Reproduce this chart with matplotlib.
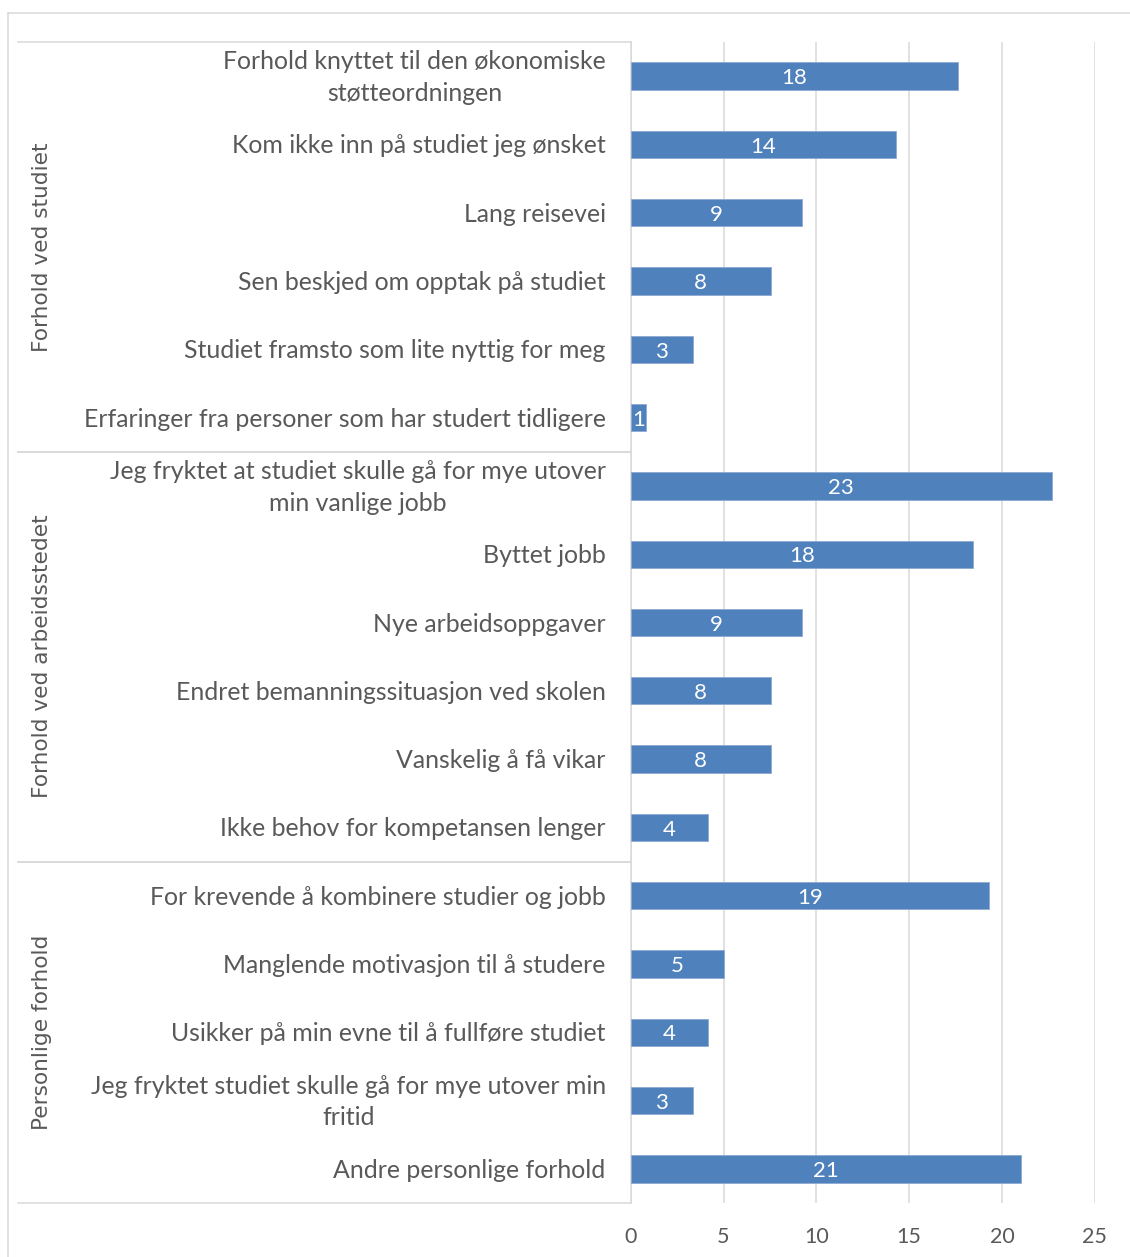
import matplotlib
matplotlib.use("Agg")
import matplotlib.pyplot as plt
from matplotlib.lines import Line2D
from matplotlib.transforms import offset_copy

# ---- data ----
groups = ["Forhold ved studiet", "Forhold ved arbeidsstedet", "Personlige forhold"]
group_sizes = [6, 6, 5]
categories = [
    "Forhold knyttet til den økonomiske\nstøtteordningen",
    "Kom ikke inn på studiet jeg ønsket",
    "Lang reisevei",
    "Sen beskjed om opptak på studiet",
    "Studiet framsto som lite nyttig for meg",
    "Erfaringer fra personer som har studert tidligere",
    "Jeg fryktet at studiet skulle gå for mye utover\nmin vanlige jobb",
    "Byttet jobb",
    "Nye arbeidsoppgaver",
    "Endret bemanningssituasjon ved skolen",
    "Vanskelig å få vikar",
    "Ikke behov for kompetansen lenger",
    "For krevende å kombinere studier og jobb",
    "Manglende motivasjon til å studere",
    "Usikker på min evne til å fullføre studiet",
    "Jeg fryktet studiet skulle gå for mye utover min\nfritid",
    "Andre personlige forhold",
]
values = [17.64, 14.28, 9.23, 7.56, 3.36, 0.81,
          22.68, 18.46, 9.23, 7.56, 7.56, 4.18,
          19.32, 5.01, 4.18, 3.36, 21.01]
xticks = [0, 5, 10, 15, 20, 25]

# ---- style ----
W, H = 1130, 1257
DPI = 100
bar_color = "#4F81BD"
grid_color = "#D9D9D9"
text_color = "#595959"
label_font = ["Lato", "DejaVu Sans"]

fig = plt.figure(figsize=(W / DPI, H / DPI), dpi=DPI)
fig.patch.set_facecolor("white")

ax_left, ax_right = 630.7, 1094.7
ax_top, ax_bot = 42, 1203
ax = fig.add_axes([ax_left / W, 1 - ax_bot / H, (ax_right - ax_left) / W, (ax_bot - ax_top) / H])

n = len(categories)
ypos = list(range(n))
ax.barh(ypos, values, height=0.4, color=bar_color, edgecolor="#8EAAD3", linewidth=0.6, zorder=3)

down2 = offset_copy(ax.transData, fig=fig, x=0, y=-2.2, units="dots")
down1 = offset_copy(ax.transData, fig=fig, x=0, y=-1.5, units="dots")

for y, v in zip(ypos, values):
    ax.text(v / 2, y, f"{round(v):d}", ha="center", va="center", color="white",
            fontsize=16, family=label_font, zorder=4, transform=down2)

ax.set_xlim(0, 25)
ax.set_ylim(n - 0.5, -0.5)
ax.set_xticks(xticks)
ax.set_xticklabels([str(t) for t in xticks], fontsize=15.5, color=text_color, family=label_font)
ax.tick_params(axis="x", length=0, pad=17)
ax.set_yticks([])
for s in ["top", "right", "bottom"]:
    ax.spines[s].set_visible(False)
ax.spines["left"].set_color(grid_color)
ax.spines["left"].set_linewidth(1.1)
ax.xaxis.grid(True, color=grid_color, linewidth=1.1, zorder=0)
ax.set_axisbelow(True)

# category labels
label_x = -25 / (ax_right - ax_left) * 25
for y, c in zip(ypos, categories):
    ax.text(label_x, y, c, ha="right", va="center", multialignment="center",
            fontsize=17.9, color=text_color, family=label_font, linespacing=1.45,
            transform=down1)

# group separators and group labels
sep_x0 = 18 / W
sep_x1 = ax_left / W
start = 0
for g, size in zip(groups, group_sizes):
    y_top = -0.5 + start
    y_bot = -0.5 + start + size
    for yb in (y_top, y_bot):
        yf = 1 - (ax_top + (yb + 0.5) * (ax_bot - ax_top) / n) / H
        fig.add_artist(Line2D([sep_x0, sep_x1], [yf, yf], color=grid_color, linewidth=1.1))
    yc = (y_top + y_bot) / 2
    yfc = 1 - (ax_top + (yc + 0.5) * (ax_bot - ax_top) / n) / H
    fig.text(42 / W, yfc, g, rotation=90, ha="center", va="center", fontsize=15.6,
             color=text_color, family="DejaVu Sans")
    start += size

# outer chart border (partially visible)
fig.add_artist(Line2D([8 / W, 8 / W], [0, 1 - 13 / H], color=grid_color, linewidth=1.1))
fig.add_artist(Line2D([8 / W, 1], [1 - 13 / H, 1 - 13 / H], color=grid_color, linewidth=1.1))

fig.savefig("out.png", dpi=DPI, facecolor="white")
